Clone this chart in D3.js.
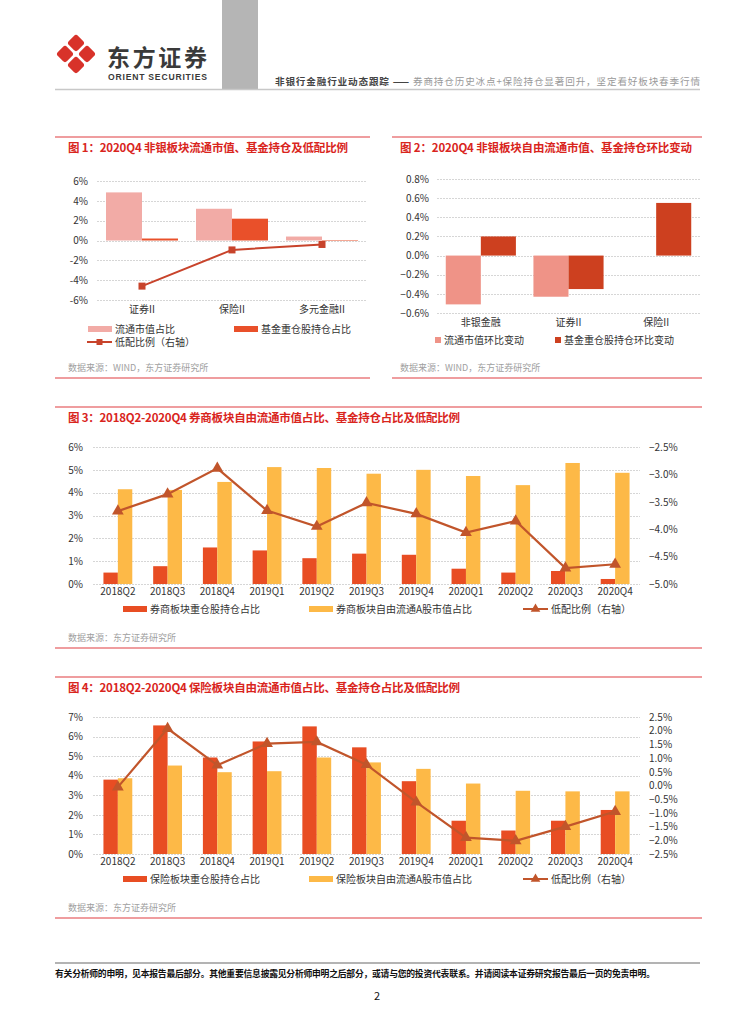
<!DOCTYPE html>
<html>
<head>
<meta charset="utf-8">
<script src="https://cdn.jsdelivr.net/npm/d3@7"></script>
<style>
body{margin:0;background:#fff;}
svg{display:block;font-family:"Noto Sans CJK SC","Liberation Sans",sans-serif;}
</style>
</head>
<body>
<div id="page"></div>
<script>
// chart 1
var c1Cats = ["证券II", "保险II", "多元金融II"];
var c1Float = [4.85, 3.2, 0.4];
var c1Fund = [0.2, 2.2, 0.05];
var c1Under = [-4.6, -0.95, -0.4];
var c1Ticks = [-6, -4, -2, 0, 2, 4, 6];

// chart 2
var c2Cats = ["非银金融", "证券II", "保险II"];
var c2Float = [-0.51, -0.43, 0];
var c2Fund = [0.2, -0.35, 0.55];
var c2Ticks = [-0.6, -0.4, -0.2, 0, 0.2, 0.4, 0.6, 0.8];

// chart 3 / 4
var quarters = ["2018Q2", "2018Q3", "2018Q4", "2019Q1", "2019Q2", "2019Q3", "2019Q4", "2020Q1", "2020Q2", "2020Q3", "2020Q4"];
var c3Fund = [0.5, 0.78, 1.6, 1.47, 1.13, 1.33, 1.28, 0.67, 0.5, 0.57, 0.22];
var c3Float = [4.15, 4.12, 4.47, 5.12, 5.08, 4.83, 5.0, 4.73, 4.33, 5.3, 4.87];
var c3Under = [-3.67, -3.36, -2.89, -3.66, -3.95, -3.52, -3.72, -4.06, -3.85, -4.71, -4.64];
var c3LeftTicks = [0, 1, 2, 3, 4, 5, 6];
var c3RightTicks = [-5, -4.5, -4, -3.5, -3, -2.5];

var c4Fund = [3.8, 6.57, 4.93, 5.75, 6.52, 5.45, 3.72, 1.7, 1.2, 1.7, 2.25];
var c4Float = [3.87, 4.52, 4.18, 4.23, 4.93, 4.68, 4.35, 3.6, 3.23, 3.2, 3.2];
var c4Under = [-0.06, 2.08, 0.74, 1.53, 1.59, 0.76, -0.61, -1.9, -2.02, -1.5, -0.95];
var c4LeftTicks = [0, 1, 2, 3, 4, 5, 6, 7];
var c4RightTicks = [-2.5, -2, -1.5, -1, -0.5, 0, 0.5, 1, 1.5, 2, 2.5];

var RULE = "#ea7d7f", TITLE = "#d9251d", TXT = "#333";

var svg = d3.select("#page").append("svg").attr("width", 754).attr("height", 1024);

// ---- page header ----
svg.append("rect").attr("x", 222).attr("y", 0).attr("width", 36).attr("height", 89).attr("fill", "#b5b5b5");
svg.append("line").attr("x1", 55).attr("x2", 700).attr("y1", 89.5).attr("y2", 89.5)
  .attr("stroke", "#c8c8c8").attr("stroke-width", 1.5);

var logo = svg.append("g").attr("transform", "translate(76,54)");
[[0, -11], [11, 0], [0, 11], [-11, 0]].forEach(function(p){
  logo.append("rect").attr("x", -6.5).attr("y", -6.5).attr("width", 13).attr("height", 13).attr("rx", 3)
    .attr("fill", "#d8322a")
    .attr("transform", "translate(" + p[0] + "," + p[1] + ") rotate(45)");
});
svg.append("text").attr("x", 107).attr("y", 66).attr("font-size", 23).attr("font-weight", "bold")
  .attr("fill", "#3a3a3a").attr("textLength", 100).text("东方证券");
svg.append("text").attr("x", 108).attr("y", 80).attr("font-size", 8.6).attr("font-weight", "bold")
  .attr("font-family", "Liberation Sans").attr("fill", "#3a3a3a").attr("textLength", 99).text("ORIENT SECURITIES");

var head = svg.append("text").attr("x", 275).attr("y", 85).attr("font-size", 9.6).attr("textLength", 425);
head.append("tspan").attr("fill", "#444").attr("font-weight", "bold").text("非银行金融行业动态跟踪 —— ");
head.append("tspan").attr("fill", "#999").text("券商持仓历史冰点+保险持仓显著回升，坚定看好板块春季行情");

// ---- footer ----
svg.append("line").attr("x1", 55).attr("x2", 700).attr("y1", 963).attr("y2", 963)
  .attr("stroke", "#9a9a9a").attr("stroke-width", 1.5);
svg.append("text").attr("x", 55).attr("y", 977).attr("font-size", 8.8).attr("font-weight", "bold")
  .attr("fill", "#111").attr("textLength", 600)
  .text("有关分析师的申明，见本报告最后部分。其他重要信息披露见分析师申明之后部分，或请与您的投资代表联系。并请阅读本证券研究报告最后一页的免责申明。");
svg.append("text").attr("x", 377).attr("y", 1000).attr("font-size", 11).attr("text-anchor", "middle")
  .attr("fill", "#111").text("2");

// frame with red rules, title and source
function frame(x1, x2, yTop, yBot, title, source, titleLen, pad){
  svg.append("line").attr("x1", x1).attr("x2", x2).attr("y1", yTop).attr("y2", yTop)
    .attr("stroke", RULE).attr("stroke-width", 1.5);
  svg.append("line").attr("x1", x1).attr("x2", x2).attr("y1", yBot).attr("y2", yBot)
    .attr("stroke", RULE).attr("stroke-width", 1.5);
  svg.append("text").attr("x", x1 + pad).attr("y", yTop + 15).attr("font-size", 11.5)
    .attr("font-weight", "bold").attr("fill", TITLE).attr("textLength", titleLen).text(title);
  svg.append("text").attr("x", x1 + pad).attr("y", yBot - 7).attr("font-size", 9)
    .attr("fill", "#a0a0a0").text(source);
}

function grid(y, ticks, xa, xb){
  svg.append("g").selectAll("line").data(ticks).join("line")
    .attr("x1", xa).attr("x2", xb)
    .attr("y1", d => Math.round(y(d)) + 0.5).attr("y2", d => Math.round(y(d)) + 0.5)
    .attr("stroke", "#d6d6d6").attr("stroke-dasharray", "2,1");
}

function styleAxis(g, size){
  g.attr("font-family", null).attr("font-size", size);
  g.select(".domain").remove();
  g.selectAll("text").attr("fill", TXT);
}

function legendRect(x, y, w, h, color, label){
  svg.append("rect").attr("x", x).attr("y", y - h / 2).attr("width", w).attr("height", h).attr("fill", color);
  svg.append("text").attr("x", x + w + 3).attr("y", y + 3.5).attr("font-size", 10).attr("fill", TXT).text(label);
}

function legendLine(x, y, color, symbol, label){
  svg.append("line").attr("x1", x).attr("x2", x + 25).attr("y1", y).attr("y2", y)
    .attr("stroke", color).attr("stroke-width", 2);
  svg.append("path").attr("d", d3.symbol(symbol).size(symbol === d3.symbolSquare ? 36 : 40)())
    .attr("transform", "translate(" + (x + 12.5) + "," + y + ")").attr("fill", color);
  svg.append("text").attr("x", x + 28).attr("y", y + 3.5).attr("font-size", 10).attr("fill", TXT).text(label);
}

// ================= chart 1 =================
(function(){
  frame(55, 370, 137, 378, "图 1：2020Q4 非银板块流通市值、基金持仓及低配比例", "数据来源：WIND，东方证券研究所", 280, 13);
  var x = d3.scaleBand().domain(c1Cats).range([97, 367]).paddingInner(0.2).paddingOuter(0.1);
  var xs = d3.scaleBand().domain([0, 1]).range([0, x.bandwidth()]);
  var y = d3.scaleLinear().domain([-6, 6]).range([300, 181]);
  grid(y, c1Ticks, 97, 367);

  var cols = ["#f2aba6", "#e9502a"];
  [c1Float, c1Fund].forEach(function(vals, k){
    svg.append("g").selectAll("rect").data(c1Cats).join("rect")
      .attr("x", (d, i) => x(d) + xs(k))
      .attr("width", xs.bandwidth())
      .attr("y", (d, i) => y(Math.max(0, vals[i])))
      .attr("height", (d, i) => Math.abs(y(vals[i]) - y(0)))
      .attr("fill", cols[k]);
  });

  var line = d3.line().x((d, i) => x(c1Cats[i]) + x.bandwidth() / 2).y(d => y(d));
  svg.append("path").datum(c1Under).attr("d", line).attr("fill", "none")
    .attr("stroke", "#c8432b").attr("stroke-width", 2);
  svg.append("g").selectAll("rect").data(c1Under).join("rect")
    .attr("x", (d, i) => x(c1Cats[i]) + x.bandwidth() / 2 - 3.5).attr("y", d => y(d) - 3.5)
    .attr("width", 7).attr("height", 7).attr("fill", "#c8432b");

  svg.append("g").attr("transform", "translate(97,0)")
    .call(d3.axisLeft(y).tickValues(c1Ticks).tickSize(0).tickPadding(9).tickFormat(d => d + "%"))
    .call(g => styleAxis(g, 10));
  svg.append("g").attr("transform", "translate(0,300)")
    .call(d3.axisBottom(x).tickSize(0).tickPadding(6))
    .call(g => styleAxis(g, 10));

  legendRect(88, 329, 24, 6, cols[0], "流通市值占比");
  legendRect(234, 329, 24, 6, cols[1], "基金重仓股持仓占比");
  legendLine(87, 342, "#c8432b", d3.symbolSquare, "低配比例（右轴）");
})();

// ================= chart 2 =================
(function(){
  frame(392, 702, 137, 378, "图 2：2020Q4 非银板块自由流通市值、基金持仓环比变动", "数据来源：WIND，东方证券研究所", 292, 8);
  var x = d3.scaleBand().domain(c2Cats).range([437, 700]).paddingInner(0.2).paddingOuter(0.1);
  var xs = d3.scaleBand().domain([0, 1]).range([0, x.bandwidth()]);
  var y = d3.scaleLinear().domain([-0.6, 0.8]).range([313, 179]);
  grid(y, c2Ticks, 437, 700);

  var cols = ["#ef9387", "#cd401f"];
  [c2Float, c2Fund].forEach(function(vals, k){
    svg.append("g").selectAll("rect").data(c2Cats).join("rect")
      .attr("x", (d, i) => x(d) + xs(k))
      .attr("width", xs.bandwidth())
      .attr("y", (d, i) => y(Math.max(0, vals[i])))
      .attr("height", (d, i) => Math.abs(y(vals[i]) - y(0)))
      .attr("fill", cols[k]);
  });

  svg.append("g").attr("transform", "translate(437,0)")
    .call(d3.axisLeft(y).tickValues(c2Ticks).tickSize(0).tickPadding(8).tickFormat(d => d3.format(".1f")(d) + "%"))
    .call(g => styleAxis(g, 10));
  svg.append("g").attr("transform", "translate(0,313)")
    .call(d3.axisBottom(x).tickSize(0).tickPadding(6))
    .call(g => styleAxis(g, 10));

  legendRect(435, 340, 6, 6, cols[0], "流通市值环比变动");
  legendRect(555, 340, 6, 6, cols[1], "基金重仓股持仓环比变动");
})();

// ================= chart 3 / 4 =================
function quarterChart(yTop, title, titleLen, fund, float, under, leftDom, leftTicks, rightDom, rightTicks, names){
  var top = yTop + 40, bot = yTop + 177;
  frame(55, 702, yTop, yTop + 241, title, "数据来源：东方证券研究所", titleLen, 13);
  var x = d3.scaleBand().domain(quarters).range([93, 640]).paddingInner(0.42).paddingOuter(0.21);
  var xs = d3.scaleBand().domain([0, 1]).range([0, x.bandwidth()]);
  var y = d3.scaleLinear().domain(leftDom).range([bot, top]);
  var y2 = d3.scaleLinear().domain(rightDom).range([bot, top]);
  grid(y, leftTicks, 93, 640);

  var cols = ["#e84d23", "#fdb947"];
  [fund, float].forEach(function(vals, k){
    svg.append("g").selectAll("rect").data(quarters).join("rect")
      .attr("x", (d, i) => x(d) + xs(k))
      .attr("width", xs.bandwidth())
      .attr("y", (d, i) => y(vals[i]))
      .attr("height", (d, i) => y(0) - y(vals[i]))
      .attr("fill", cols[k]);
  });

  var lc = "#c1552b";
  var line = d3.line().x((d, i) => x(quarters[i]) + x.bandwidth() / 2).y(d => y2(d));
  svg.append("path").datum(under).attr("d", line).attr("fill", "none")
    .attr("stroke", lc).attr("stroke-width", 2.2);
  svg.append("g").selectAll("path").data(under).join("path")
    .attr("d", d3.symbol(d3.symbolTriangle).size(60)())
    .attr("transform", (d, i) => "translate(" + (x(quarters[i]) + x.bandwidth() / 2) + "," + y2(d) + ")")
    .attr("fill", lc);

  svg.append("g").attr("transform", "translate(93,0)")
    .call(d3.axisLeft(y).tickValues(leftTicks).tickSize(0).tickPadding(10).tickFormat(d => d + "%"))
    .call(g => styleAxis(g, 10));
  svg.append("g").attr("transform", "translate(640,0)")
    .call(d3.axisRight(y2).tickValues(rightTicks).tickSize(0).tickPadding(9).tickFormat(d => d3.format(".1f")(d) + "%"))
    .call(g => styleAxis(g, 10));
  svg.append("g").attr("transform", "translate(0," + bot + ")")
    .call(d3.axisBottom(x).tickSize(0).tickPadding(4))
    .call(g => styleAxis(g, 10));

  legendRect(123, yTop + 202, 24, 6, cols[0], names[0]);
  legendRect(309, yTop + 202, 24, 6, cols[1], names[1]);
  legendLine(523, yTop + 202, lc, d3.symbolTriangle, "低配比例（右轴）");
}

quarterChart(407, "图 3：2018Q2-2020Q4 券商板块自由流通市值占比、基金持仓占比及低配比例", 392,
  c3Fund, c3Float, c3Under, [0, 6], c3LeftTicks, [-5, -2.5], c3RightTicks,
  ["券商板块重仓股持仓占比", "券商板块自由流通A股市值占比"]);

quarterChart(677, "图 4：2018Q2-2020Q4 保险板块自由流通市值占比、基金持仓占比及低配比例", 392,
  c4Fund, c4Float, c4Under, [0, 7], c4LeftTicks, [-2.5, 2.5], c4RightTicks,
  ["保险板块重仓股持仓占比", "保险板块自由流通A股市值占比"]);
</script>
</body>
</html>
